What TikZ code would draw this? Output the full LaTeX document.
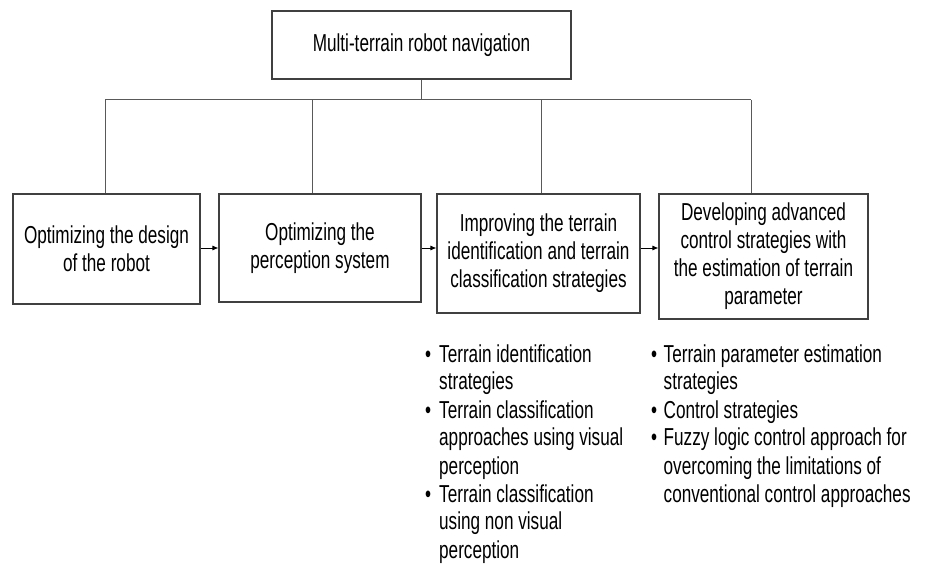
\documentclass[tikz,border=0pt]{standalone}
\usepackage{fontspec}
\setmainfont{Liberation Sans}[FakeStretch=0.70]
\usetikzlibrary{arrows.meta}
\definecolor{linegray}{HTML}{595959}
\definecolor{boxgray}{HTML}{404040}
\begin{document}
\begin{tikzpicture}[x=1pt,y=-1pt,
  txt/.style={font=\fontsize{24.5}{28}\selectfont, text=black},
  box/.style={txt, draw=boxgray, line width=1.1pt, align=center, inner sep=0pt},
  bus/.style={draw=linegray, line width=1pt},
  arr/.style={draw=black, line width=0.9pt, -{Latex[length=6pt,width=5pt]}},
  blist/.style={txt, anchor=base west, inner sep=0pt}]
\useasboundingbox (0,0) rectangle (929,569);

\node[box, minimum width=299pt, minimum height=68pt] (top) at (421.5,45) {Multi-terrain robot navigation};
\node[box, minimum width=187pt, minimum height=110pt] (b1) at (106.5,249) {Optimizing the design\\of the robot};
\node[box, minimum width=202pt, minimum height=108pt] (b2) at (320,248) {Optimizing the\\perception system};
\node[box, minimum width=203pt, minimum height=119pt] (b3) at (538.5,253.5) {Improving the terrain\\identification and terrain\\classification strategies};
\node[box, minimum width=209pt, minimum height=125pt] (b4) at (763.5,256.5) {Developing advanced\\control strategies with\\the estimation of terrain\\parameter};

\coordinate (jt) at (421,100);
\coordinate (j1) at (105,100);
\coordinate (j2) at (312,100);
\coordinate (j3) at (541,100);
\coordinate (j4) at (751,100);
\coordinate (ya) at (0,248);

\draw[bus] (top.south -| jt) -- (jt);
\draw[bus] (j1) -- (j4);
\draw[bus] (j1) -- (j1 |- b1.north);
\draw[bus] (j2) -- (j2 |- b2.north);
\draw[bus] (j3) -- (j3 |- b3.north);
\draw[bus] (j4) -- (j4 |- b4.north);

\draw[arr] (b1.east |- ya) -- (b2.west |- ya);
\draw[arr] (b2.east |- ya) -- (b3.west |- ya);
\draw[arr] (b3.east |- ya) -- (b4.west |- ya);

\node[blist] (l1) at (425,362) {\renewcommand{\arraystretch}{1}\begin{tabular}[t]{@{}l@{}l@{}}
\makebox[14pt][l]{\textbullet} & Terrain identification\\
 & strategies\\
\makebox[14pt][l]{\textbullet} & Terrain classification\\
 & approaches using visual\\
 & perception\\
\makebox[14pt][l]{\textbullet} & Terrain classification\\
 & using non visual\\
 & perception
\end{tabular}};

\node[blist] (l2) at (651,362) {\renewcommand{\arraystretch}{1}\begin{tabular}[t]{@{}l@{}l@{}}
\makebox[12.5pt][l]{\textbullet} & Terrain parameter estimation\\
 & strategies\\
\makebox[12.5pt][l]{\textbullet} & Control strategies\\
\makebox[12.5pt][l]{\textbullet} & Fuzzy logic control approach for\\
 & overcoming the limitations of\\
 & conventional control approaches
\end{tabular}};
\end{tikzpicture}
\end{document}
